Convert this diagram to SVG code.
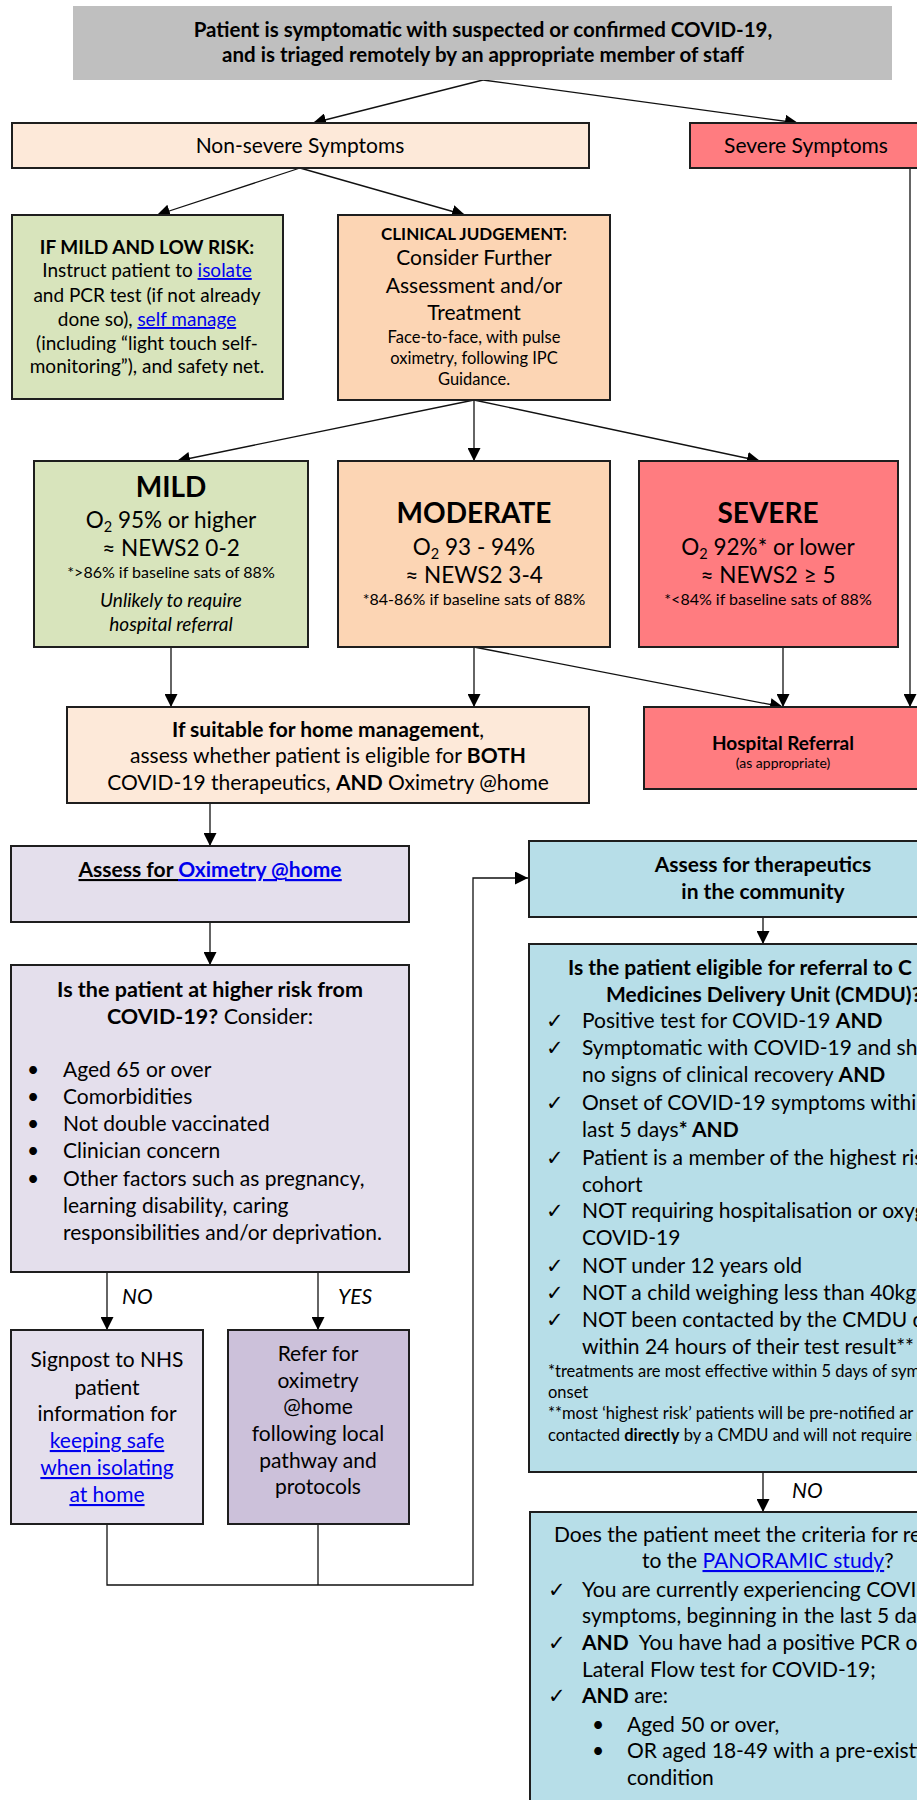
<svg xmlns="http://www.w3.org/2000/svg" width="917" height="1800" viewBox="0 0 917 1800">
<style>
text { font-family: Lato, "Liberation Sans", sans-serif; fill: #000; }
.m { text-anchor: middle; }
.b { font-weight: bold; }
.i { font-style: italic; }
.lk { fill: #0000ee; text-decoration: underline; }
.box { stroke: #1e1e1e; stroke-width: 2; }
.cn { stroke: #111; stroke-width: 1.3; fill: none; }
.s21 { font-size: 21px; }
.s20 { font-size: 20.5px; }
.s18 { font-size: 19px; }
.s17 { font-size: 16.5px; }
.s15 { font-size: 16.5px; }
.fn { font-size: 16px; }
.o2 { font-size: 22.5px; }
.ck { font-family: "DejaVu Sans", sans-serif; font-size: 21px; }
.grey { fill: #bfbfbf; }
.peachL { fill: #fde9d9; }
.peach { fill: #fcd5b4; }
.red { fill: #ff7c80; }
.green { fill: #d8e4bc; }
.lav { fill: #e4dfec; }
.lavD { fill: #ccc1da; }
.blue { fill: #b7dee8; }
</style>
<defs>
<marker id="ah" markerUnits="userSpaceOnUse" markerWidth="13" markerHeight="13" refX="13" refY="6.5" orient="auto">
<path d="M0,0 L13,6.5 L0,13 z" fill="#000"/>
</marker>
</defs>

<g id="connectors">
<line class="cn" x1="483" y1="80" x2="313" y2="123" marker-end="url(#ah)"/>
<line class="cn" x1="483" y1="80" x2="798" y2="123" marker-end="url(#ah)"/>
<line class="cn" x1="300" y1="168" x2="157" y2="215" marker-end="url(#ah)"/>
<line class="cn" x1="300" y1="168" x2="465" y2="215" marker-end="url(#ah)"/>
<line class="cn" x1="474" y1="400" x2="177" y2="461" marker-end="url(#ah)"/>
<line class="cn" x1="474" y1="400" x2="474" y2="461" marker-end="url(#ah)"/>
<line class="cn" x1="474" y1="400" x2="760" y2="461" marker-end="url(#ah)"/>
<line class="cn" x1="171" y1="647" x2="171" y2="707" marker-end="url(#ah)"/>
<line class="cn" x1="474" y1="647" x2="474" y2="707" marker-end="url(#ah)"/>
<line class="cn" x1="474" y1="647" x2="783" y2="707" marker-end="url(#ah)"/>
<line class="cn" x1="783" y1="647" x2="783" y2="707" marker-end="url(#ah)"/>
<line class="cn" x1="910" y1="168" x2="910" y2="707" marker-end="url(#ah)"/>
<line class="cn" x1="210" y1="803" x2="210" y2="846" marker-end="url(#ah)"/>
<line class="cn" x1="210" y1="922" x2="210" y2="965" marker-end="url(#ah)"/>
<line class="cn" x1="107" y1="1272" x2="107" y2="1330" marker-end="url(#ah)"/>
<line class="cn" x1="318" y1="1272" x2="318" y2="1330" marker-end="url(#ah)"/>
<polyline class="cn" points="107,1524 107,1585 473,1585 473,878 528,878" marker-end="url(#ah)"/>
<line class="cn" x1="318" y1="1524" x2="318" y2="1585"/>
<line class="cn" x1="763" y1="917" x2="763" y2="944" marker-end="url(#ah)"/>
<line class="cn" x1="763" y1="1472" x2="763" y2="1512" marker-end="url(#ah)"/>
<text class="s21 i" x="122" y="1304">NO</text>
<text class="s21 i" x="338" y="1304">YES</text>
<text class="s21 i" x="792" y="1498">NO</text>
</g>

<g id="n-title">
<rect class="grey" x="73" y="6" width="819" height="74"/>
<text class="m b s20" x="483" y="37">Patient is symptomatic with suspected or confirmed COVID-19,</text>
<text class="m b s20" x="483" y="62">and is triaged remotely by an appropriate member of staff</text>
</g>

<g id="n-nonsevere">
<rect class="box peachL" x="12" y="123" width="577" height="45"/>
<text class="m s21" x="300" y="153">Non-severe Symptoms</text>
</g>

<g id="n-severe-symptoms">
<rect class="box red" x="690" y="123" width="240" height="45"/>
<text class="m s21" x="806" y="153">Severe Symptoms</text>
</g>

<g id="n-mild-low-risk">
<rect class="box green" x="12" y="215" width="271" height="184"/>
<text class="m b s18" x="147" y="254">IF MILD AND LOW RISK:</text>
<text class="m s18" x="147" y="277">Instruct patient to <tspan class="lk">isolate</tspan></text>
<text class="m s18" x="147" y="302">and PCR test (if not already</text>
<text class="m s18" x="147" y="326">done so), <tspan class="lk">self manage</tspan></text>
<text class="m s18" x="147" y="350">(including “light touch self-</text>
<text class="m s18" x="147" y="373">monitoring”), and safety net.</text>
</g>

<g id="n-clinical">
<rect class="box peach" x="338" y="215" width="272" height="185"/>
<text class="m b" style="font-size:17px" x="474" y="240">CLINICAL JUDGEMENT:</text>
<text class="m s21" x="474" y="265">Consider Further</text>
<text class="m s21" x="474" y="293">Assessment and/or</text>
<text class="m s21" x="474" y="320">Treatment</text>
<text class="m s17" x="474" y="343">Face-to-face, with pulse</text>
<text class="m s17" x="474" y="364">oximetry, following IPC</text>
<text class="m s17" x="474" y="385">Guidance.</text>
</g>

<g id="n-mild">
<rect class="box green" x="34" y="461" width="274" height="186"/>
<text class="m b" style="font-size:28px" x="171" y="497">MILD</text>
<text class="m o2" x="171" y="528">O<tspan style="font-size:14.5px" dy="4">2</tspan><tspan dy="-4"> 95% or higher</tspan></text>
<text class="m o2" x="171" y="556">≈ NEWS2 0-2</text>
<text class="m fn" x="171" y="578">*&gt;86% if baseline sats of 88%</text>
<text class="m i" style="font-size:19px" x="171" y="607">Unlikely to require</text>
<text class="m i" style="font-size:19px" x="171" y="631">hospital referral</text>
</g>

<g id="n-moderate">
<rect class="box peach" x="338" y="461" width="272" height="186"/>
<text class="m b" style="font-size:28px" x="474" y="523">MODERATE</text>
<text class="m o2" x="474" y="555">O<tspan style="font-size:14.5px" dy="4">2</tspan><tspan dy="-4"> 93 - 94%</tspan></text>
<text class="m o2" x="474" y="583">≈ NEWS2 3-4</text>
<text class="m fn" x="474" y="605">*84-86% if baseline sats of 88%</text>
</g>

<g id="n-severe">
<rect class="box red" x="639" y="461" width="259" height="186"/>
<text class="m b" style="font-size:28px" x="768" y="523">SEVERE</text>
<text class="m o2" x="768" y="555">O<tspan style="font-size:14.5px" dy="4">2</tspan><tspan dy="-4"> 92%* or lower</tspan></text>
<text class="m o2" x="768" y="583">≈ NEWS2 ≥ 5</text>
<text class="m fn" x="768" y="605">*&lt;84% if baseline sats of 88%</text>
</g>

<g id="n-home-management">
<rect class="box peachL" x="67" y="707" width="522" height="96"/>
<text class="m s21" x="328" y="737"><tspan class="b">If suitable for home management</tspan>,</text>
<text class="m s21" x="328" y="763">assess whether patient is eligible for <tspan class="b">BOTH</tspan></text>
<text class="m s21" x="328" y="790">COVID-19 therapeutics, <tspan class="b">AND</tspan> Oximetry @home</text>
</g>

<g id="n-hospital">
<rect class="box red" x="644" y="707" width="286" height="82"/>
<text class="m b s18" x="783" y="750">Hospital Referral</text>
<text class="m" style="font-size:14px" x="783" y="768">(as appropriate)</text>
</g>

<g id="n-assess-oximetry">
<rect class="box lav" x="11" y="846" width="398" height="76"/>
<text class="m b s21" x="210" y="877" style="text-decoration:underline">Assess for <tspan class="lk">Oximetry @home</tspan></text>
</g>

<g id="n-higher-risk">
<rect class="box lav" x="11" y="965" width="398" height="307"/>
<text class="m b" style="font-size:21.5px" x="210" y="997">Is the patient at higher risk from</text>
<text class="m" style="font-size:21.5px" x="210" y="1024"><tspan class="b">COVID-19?</tspan> Consider:</text>
<text class="s21" x="27" y="1077">•</text><text class="s21" x="63" y="1077">Aged 65 or over</text>
<text class="s21" x="27" y="1104">•</text><text class="s21" x="63" y="1104">Comorbidities</text>
<text class="s21" x="27" y="1131">•</text><text class="s21" x="63" y="1131">Not double vaccinated</text>
<text class="s21" x="27" y="1158">•</text><text class="s21" x="63" y="1158">Clinician concern</text>
<text class="s21" x="27" y="1186">•</text><text class="s21" x="63" y="1186">Other factors such as pregnancy,</text>
<text class="s21" x="63" y="1213">learning disability, caring</text>
<text class="s21" x="63" y="1240">responsibilities and/or deprivation.</text>
</g>

<g id="n-signpost">
<rect class="box lav" x="11" y="1330" width="192" height="194"/>
<text class="m s21" x="107" y="1367">Signpost to NHS</text>
<text class="m s21" x="107" y="1395">patient</text>
<text class="m s21" x="107" y="1421">information for</text>
<text class="m s21 lk" x="107" y="1448">keeping safe</text>
<text class="m s21 lk" x="107" y="1475">when isolating</text>
<text class="m s21 lk" x="107" y="1502">at home</text>
</g>

<g id="n-refer-oximetry">
<rect class="box lavD" x="228" y="1330" width="181" height="194"/>
<text class="m s21" x="318" y="1361">Refer for</text>
<text class="m s21" x="318" y="1388">oximetry</text>
<text class="m s21" x="318" y="1414">@home</text>
<text class="m s21" x="318" y="1441">following local</text>
<text class="m s21" x="318" y="1468">pathway and</text>
<text class="m s21" x="318" y="1494">protocols</text>
</g>

<g id="n-therapeutics">
<rect class="box blue" x="529" y="841" width="480" height="76"/>
<text class="m b s21" x="763" y="872">Assess for therapeutics</text>
<text class="m b s21" x="763" y="899">in the community</text>
</g>

<g id="n-cmdu">
<rect class="box blue" x="529" y="944" width="480" height="528"/>
<text class="b s21" x="568" y="975">Is the patient eligible for referral to C</text>
<text class="b s21" x="606" y="1002">Medicines Delivery Unit (CMDU)?</text>
<text class="ck" x="546" y="1028">✓</text><text class="s21" x="582" y="1028">Positive test for COVID-19 <tspan class="b">AND</tspan></text>
<text class="ck" x="546" y="1055">✓</text><text class="s21" x="582" y="1055">Symptomatic with COVID-19 and sho</text>
<text class="s21" x="582" y="1082">no signs of clinical recovery <tspan class="b">AND</tspan></text>
<text class="ck" x="546" y="1110">✓</text><text class="s21" x="582" y="1110">Onset of COVID-19 symptoms within</text>
<text class="s21" x="582" y="1137">last 5 days<tspan class="b">* AND</tspan></text>
<text class="ck" x="546" y="1165">✓</text><text class="s21" x="582" y="1165">Patient is a member of the highest ris</text>
<text class="s21" x="582" y="1192">cohort</text>
<text class="ck" x="546" y="1218">✓</text><text class="s21" x="582" y="1218">NOT requiring hospitalisation or oxyg</text>
<text class="s21" x="582" y="1245">COVID-19</text>
<text class="ck" x="546" y="1273">✓</text><text class="s21" x="582" y="1273">NOT under 12 years old</text>
<text class="ck" x="546" y="1300">✓</text><text class="s21" x="582" y="1300">NOT a child weighing less than 40kg.</text>
<text class="ck" x="546" y="1327">✓</text><text class="s21" x="582" y="1327">NOT been contacted by the CMDU di</text>
<text class="s21" x="582" y="1354">within 24 hours of their test result**</text>
<text class="s15" x="548" y="1377">*treatments are most effective within 5 days of sym</text>
<text class="s15" x="548" y="1398">onset</text>
<text class="s15" x="548" y="1419">**most ‘highest risk’ patients will be pre-notified ar</text>
<text class="s15" x="548" y="1441">contacted <tspan class="b">directly</tspan> by a CMDU and will not require r</text>
</g>

<g id="n-panoramic">
<rect class="box blue" x="530" y="1512" width="480" height="310"/>
<text class="s21" x="554" y="1542">Does the patient meet the criteria for re</text>
<text class="s21" x="642" y="1568">to the <tspan class="lk">PANORAMIC study</tspan>?</text>
<text class="ck" x="548" y="1597">✓</text><text class="s21" x="582" y="1597">You are currently experiencing COVI</text>
<text class="s21" x="582" y="1623">symptoms, beginning in the last 5 da</text>
<text class="ck" x="548" y="1650">✓</text><text class="s21" x="582" y="1650"><tspan class="b">AND</tspan>&#160; You have had a positive PCR or</text>
<text class="s21" x="582" y="1677">Lateral Flow test for COVID-19;</text>
<text class="ck" x="548" y="1703">✓</text><text class="s21" x="582" y="1703"><tspan class="b">AND</tspan> are:</text>
<text class="s21" x="592" y="1732">•</text><text class="s21" x="627" y="1732">Aged 50 or over,</text>
<text class="s21" x="592" y="1758">•</text><text class="s21" x="627" y="1758">OR aged 18-49 with a pre-existi</text>
<text class="s21" x="627" y="1785">condition</text>
</g>
</svg>
